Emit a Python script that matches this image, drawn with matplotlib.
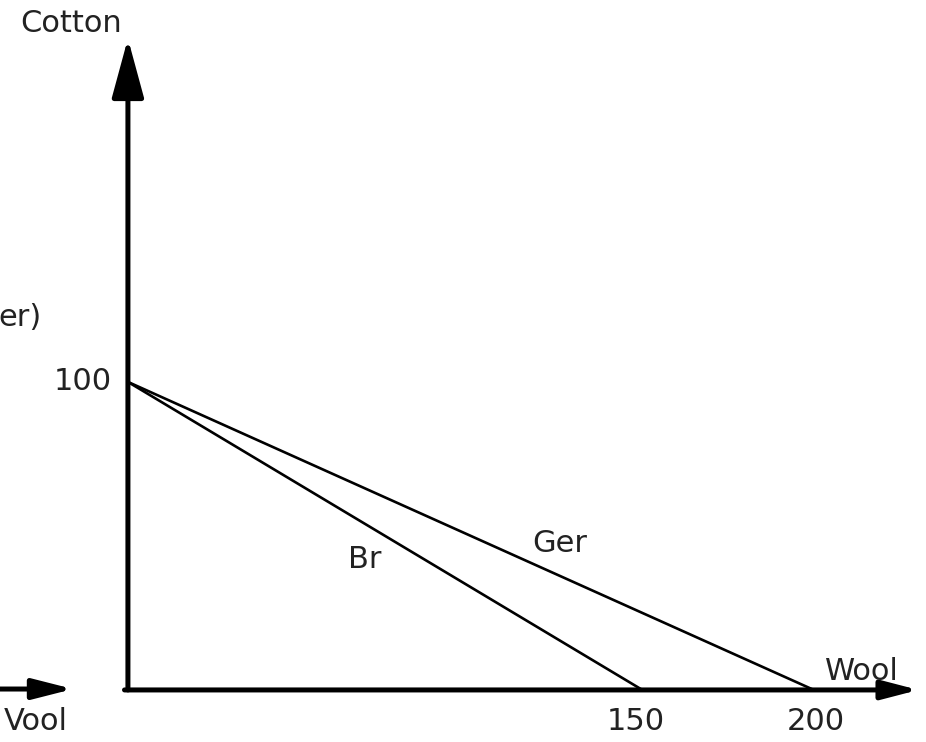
import matplotlib
matplotlib.use("Agg")
import matplotlib.pyplot as plt

# ── Data ─────────────────────────────────────────────────────────────────────
cotton_max = 100                       # common intercept on the Cotton axis
lines      = ["Br", "Ger"]
wool_max   = [150, 200]                # intercepts on the Wool axis
tick_x     = [150, 200]
tick_y     = [100]

plt.rcParams["font.family"] = ["DejaVu Sans"]
TXT = "#222222"
FS = 22

fig = plt.figure(figsize=(9.26, 7.42), dpi=100)
ax = fig.add_axes([0, 0, 1, 1])
ax.set_xlim(-37.3, 232.7)
ax.set_ylim(-16.9, 224.0)
ax.axis("off")

# Budget lines
for name, w in zip(lines, wool_max):
    ax.plot([0, w], [cotton_max, 0], color="black", lw=1.9, solid_capstyle="butt")

# Axes with arrows
ax.annotate("", xy=(0, 211.5), xytext=(0, 0),
            arrowprops=dict(arrowstyle="-|>,head_length=1.4,head_width=0.38",
                            mutation_scale=26, lw=3.6, color="black",
                            shrinkA=0, shrinkB=0))
ax.annotate("", xy=(230.5, 0), xytext=(-1.0, 0),
            arrowprops=dict(arrowstyle="-|>,head_length=1.0,head_width=0.26",
                            mutation_scale=22, lw=3.6, color="black",
                            shrinkA=0, shrinkB=0))
# partial arrow from a neighbouring panel on the left edge
ax.annotate("", xy=(-16.0, 0.3), xytext=(-40, 0.3),
            arrowprops=dict(arrowstyle="-|>,head_length=1.1,head_width=0.28",
                            mutation_scale=22, lw=3.6, color="black",
                            shrinkA=0, shrinkB=0))

# Labels
ax.text(-16.6, 216.5, "Cotton", ha="center", va="center", fontsize=FS, color=TXT)
for t in tick_y:
    ax.text(-4.7, t, f"{t}", ha="right", va="center", fontsize=FS, color=TXT)
for t, px in zip(tick_x, [148.1, 200.6]):
    ax.text(px, -10.4, f"{t}", ha="center", va="center", fontsize=FS, color=TXT)
ax.text(214, 6.0, "Wool", ha="center", va="center", fontsize=FS, color=TXT)
ax.text(69, 42.5, "Br", ha="center", va="center", fontsize=FS, color=TXT)
ax.text(126, 47.5, "Ger", ha="center", va="center", fontsize=FS, color=TXT)
# clipped text from a neighbouring panel
ax.text(-25.1, 121, "er)", ha="right", va="center", fontsize=FS, color=TXT)
ax.text(-17.5, -10.4, "Vool", ha="right", va="center", fontsize=FS, color=TXT)

fig.savefig("out.png", dpi=100)
